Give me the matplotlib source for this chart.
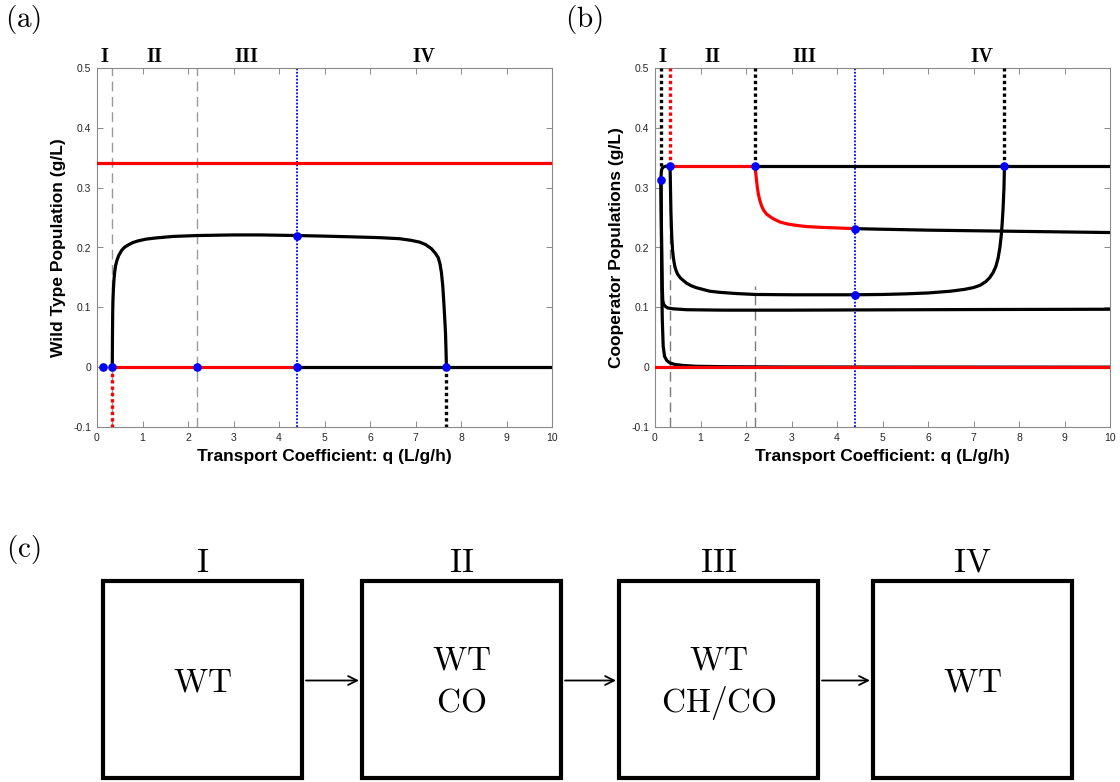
import matplotlib
matplotlib.use("Agg")
import matplotlib.pyplot as plt
from matplotlib.patches import Rectangle

plt.rcParams['mathtext.fontset'] = 'cm'
plt.rcParams['axes.unicode_minus'] = False
plt.rcParams['font.family'] = ['Liberation Sans', 'DejaVu Sans']

# ---------------- data ----------------
x_ticks = [0, 1, 2, 3, 4, 5, 6, 7, 8, 9, 10]
y_ticks = [-0.1, 0, 0.1, 0.2, 0.3, 0.4, 0.5]
y_tick_labels = ['-0.1', '0', '0.1', '0.2', '0.3', '0.4', '0.5']

region_labels = ['I', 'II', 'III', 'IV']
region_label_q = [0.17, 1.27, 3.3, 7.2]
dashed_q = [0.33, 2.2]          # gray dashed region boundaries
blue_q = 4.4                    # blue dotted line
q_end = 10

# panel (a): wild type
a_red_top_y = 0.342
a_curve_q = [0.335, 0.338, 0.341, 0.345, 0.35, 0.36, 0.375, 0.39, 0.41, 0.44, 0.48, 0.54, 0.60,
             0.68, 0.78, 0.90, 1.08, 1.30, 1.67, 2.2, 3.0, 3.6, 4.4, 5.0, 5.6, 6.2, 6.65, 6.9,
             7.09, 7.22, 7.35, 7.44, 7.50, 7.54, 7.57, 7.60, 7.62, 7.64, 7.66, 7.67, 7.68]
a_curve_y = [0.0, 0.03, 0.06, 0.09, 0.11, 0.13, 0.148, 0.16, 0.17, 0.179, 0.187, 0.195, 0.200,
             0.204, 0.208, 0.211, 0.214, 0.216, 0.2185, 0.220, 0.221, 0.221, 0.220, 0.219, 0.2178,
             0.2165, 0.2147, 0.212, 0.209, 0.205, 0.198, 0.190, 0.183, 0.172, 0.158, 0.135, 0.111,
             0.085, 0.056, 0.03, 0.0]
a_red_zero_q = [0.33, 4.4]
a_black_zero_q = [4.4, 10]
a_dot_q = [0.13, 0.33, 2.2, 4.4, 4.4, 7.68]
a_dot_y = [0.0, 0.0, 0.0, 0.0, 0.220, 0.0]
a_dotted_below = [(0.33, 'red'), (7.68, 'black')]

# panel (b): cooperators
b_top_y = 0.336
b_top_red_q = [0.33, 2.2]
b_top_black_q = [2.2, 10]
b_A_q = [0.13, 0.135, 0.14, 0.15, 0.17, 0.20, 0.25, 0.33]
b_A_y = [0.313, 0.322, 0.327, 0.331, 0.334, 0.335, 0.336, 0.336]
b_B_q = [0.13, 0.135, 0.14, 0.15, 0.16, 0.17, 0.19, 0.22, 0.28, 0.40, 0.7, 1.5, 3.0, 5.0, 7.0, 10.0]
b_B_y = [0.313, 0.28, 0.24, 0.18, 0.135, 0.112, 0.105, 0.102, 0.099, 0.0975, 0.096, 0.0953, 0.0953,
         0.0958, 0.0963, 0.0968]
b_C_q = [0.13, 0.14, 0.145, 0.15, 0.16, 0.18, 0.21, 0.26, 0.33, 0.44, 0.6, 0.9, 1.5, 3.0, 10.0]
b_C_y = [0.313, 0.24, 0.18, 0.13, 0.08, 0.035, 0.018, 0.011, 0.007, 0.0045, 0.003, 0.0015, 0.0008,
         0.0003, 0.0]
b_D_q = [0.33, 0.335, 0.34, 0.345, 0.35, 0.36, 0.37, 0.385, 0.40, 0.42, 0.44, 0.47, 0.50, 0.56,
         0.62, 0.70, 0.80, 0.90, 1.0, 1.2, 1.43, 1.8, 2.2, 3.0, 4.4, 5.0, 5.5, 6.0, 6.5, 6.8, 7.0,
         7.15, 7.27, 7.36, 7.43, 7.49, 7.54, 7.58, 7.61, 7.63, 7.65, 7.67, 7.68]
b_D_y = [0.336, 0.32, 0.30, 0.28, 0.26, 0.235, 0.215, 0.197, 0.185, 0.175, 0.167, 0.160, 0.155, 0.149,
         0.145, 0.140, 0.136, 0.133, 0.131, 0.127, 0.125, 0.123, 0.1215, 0.121, 0.121, 0.1215, 0.1225,
         0.124, 0.127, 0.130, 0.133, 0.137, 0.143, 0.150, 0.158, 0.168, 0.182, 0.200, 0.220, 0.240,
         0.265, 0.300, 0.336]
b_E_red_q = [2.2, 2.21, 2.22, 2.235, 2.25, 2.27, 2.30, 2.34, 2.39, 2.45, 2.52, 2.6, 2.75, 2.9, 3.1,
             3.33, 3.7, 4.07, 4.4]
b_E_red_y = [0.336, 0.328, 0.320, 0.310, 0.300, 0.290, 0.280, 0.270, 0.262, 0.256, 0.252, 0.248,
             0.2425, 0.2395, 0.237, 0.235, 0.2335, 0.2325, 0.2315]
b_E_black_q = [4.4, 5, 6, 7, 8, 9, 10]
b_E_black_y = [0.2315, 0.2305, 0.229, 0.228, 0.227, 0.226, 0.225]
b_red_zero_q = [0, 10]
b_dot_q = [0.13, 0.33, 2.2, 4.4, 4.4, 7.68]
b_dot_y = [0.313, 0.336, 0.336, 0.2315, 0.121, 0.336]
b_dotted_above = [(0.13, 'black'), (0.33, 'red'), (2.2, 'black'), (7.68, 'black')]
b_dashed_top = [0.336, 0.135]

# panel (c): flow diagram
box_titles = ['I', 'II', 'III', 'IV']
box_contents = [['WT'], ['WT', 'CO'], ['WT', 'CH/CO'], ['WT']]

# ---------------- figure ----------------
W, H = 1120, 782
fig = plt.figure(figsize=(W / 100, H / 100), dpi=100)

bg = fig.add_axes([0, 0, 1, 1])
bg.set_xlim(0, W)
bg.set_ylim(H, 0)
bg.axis('off')

ax_a = fig.add_axes([97 / W, 1 - 427 / H, 455 / W, 359 / H])
ax_b = fig.add_axes([655 / W, 1 - 427 / H, 455 / W, 359 / H])

SP = '#8a8a8a'
LW = 2.3


def style(ax, ylabel):
    ax.set_xlim(0, 10)
    ax.set_ylim(-0.1, 0.5)
    ax.set_xticks(x_ticks)
    ax.set_yticks(y_ticks)
    ax.set_yticklabels(y_tick_labels)
    ax.tick_params(direction='in', length=4, width=0.7, color=SP, labelsize=7.5,
                   labelcolor='#262626', top=True, right=True, pad=4)
    for s in ax.spines.values():
        s.set_color(SP)
        s.set_linewidth(0.8)
    ax.set_xlabel('Transport Coefficient: q (L/g/h)', fontsize=12.5, fontweight='bold', labelpad=5)
    ax.set_ylabel(ylabel, fontsize=12.5, fontweight='bold', labelpad=5)
    for lab, q in zip(region_labels, region_label_q):
        ax.text(q, 0.519, r'$\mathbf{%s}$' % lab, ha='center', va='center', fontsize=14.5,
                clip_on=False)


dot_style = dict(linestyle='none', marker='o', markersize=5.2, color='#0000ff', zorder=6)
dotted = (0, (1.0, 0.9))

# ---- panel (a)
for q in dashed_q:
    ax_a.plot([q, q], [-0.1, 0.5], color='#9a9a9a', lw=1.0, dashes=(7, 4), zorder=1)
ax_a.plot([blue_q, blue_q], [-0.1, 0.5], color='#0000ff', lw=1.3, linestyle=dotted, zorder=2)
for q, c in a_dotted_below:
    ax_a.plot([q, q], [0, -0.1], color=c, lw=2.4, linestyle=dotted, zorder=3)
ax_a.plot([0, q_end], [a_red_top_y, a_red_top_y], color='red', lw=LW, zorder=3)
ax_a.plot(a_curve_q, a_curve_y, color='black', lw=LW, zorder=4)
ax_a.plot(a_red_zero_q, [0, 0], color='red', lw=LW, zorder=4)
ax_a.plot(a_black_zero_q, [0, 0], color='black', lw=LW, zorder=4)
ax_a.plot(a_dot_q, a_dot_y, **dot_style)
style(ax_a, 'Wild Type Population (g/L)')

# ---- panel (b)
for q, top in zip(dashed_q, b_dashed_top):
    ax_b.plot([q, q], [-0.1, top], color='#7a7a7a', lw=1.0, dashes=(7, 4), zorder=1)
ax_b.plot([blue_q, blue_q], [-0.1, 0.5], color='#0000ff', lw=1.3, linestyle=dotted, zorder=2)
for q, c in b_dotted_above:
    ax_b.plot([q, q], [b_top_y, 0.5], color=c, lw=2.4, linestyle=dotted, zorder=3)
ax_b.plot(b_C_q, b_C_y, color='black', lw=LW, zorder=3)
ax_b.plot(b_B_q, b_B_y, color='black', lw=LW, zorder=3)
ax_b.plot(b_A_q, b_A_y, color='black', lw=LW, zorder=3)
ax_b.plot(b_D_q, b_D_y, color='black', lw=LW, zorder=3)
ax_b.plot(b_top_red_q, [b_top_y, b_top_y], color='red', lw=LW, zorder=4)
ax_b.plot(b_top_black_q, [b_top_y, b_top_y], color='black', lw=LW, zorder=4)
ax_b.plot(b_E_red_q, b_E_red_y, color='red', lw=LW, zorder=4)
ax_b.plot(b_E_black_q, b_E_black_y, color='black', lw=LW, zorder=4)
ax_b.plot(b_red_zero_q, [0, 0], color='red', lw=LW, zorder=5)
ax_b.plot(b_dot_q, b_dot_y, **dot_style)
style(ax_b, 'Cooperator Populations (g/L)')

# ---- panel letters
for s, x, y in [('(a)', 23, 20), ('(b)', 584, 20), ('(c)', 23, 549)]:
    bg.text(x, y, r'$\mathrm{%s}$' % s, ha='center', va='center', fontsize=21)

# ---- panel (c)
box_left = [103, 362, 619, 873]
box_w = 199
box_top, box_bot = 581, 778
cy = (box_top + box_bot) / 2
line_gap = 42
for i, (t, content) in enumerate(zip(box_titles, box_contents)):
    x0 = box_left[i]
    bg.add_patch(Rectangle((x0, box_top), box_w, box_bot - box_top, fill=False,
                           edgecolor='black', lw=3.0))
    bg.text(x0 + box_w / 2, 563, r'$\mathrm{%s}$' % t, ha='center', va='center', fontsize=24)
    n = len(content)
    for j, line in enumerate(content):
        yy = cy + 3 + (j - (n - 1) / 2) * line_gap
        bg.text(x0 + box_w / 2, yy, r'$\mathrm{%s}$' % line, ha='center', va='center', fontsize=24)
    if i < len(box_titles) - 1:
        bg.annotate('', xy=(box_left[i + 1] - 3, cy + 1), xytext=(x0 + box_w + 4, cy + 1),
                    arrowprops=dict(arrowstyle='->', lw=1.3, color='black', mutation_scale=16,
                                    shrinkA=0, shrinkB=0))

fig.savefig('out.png', dpi=100)
